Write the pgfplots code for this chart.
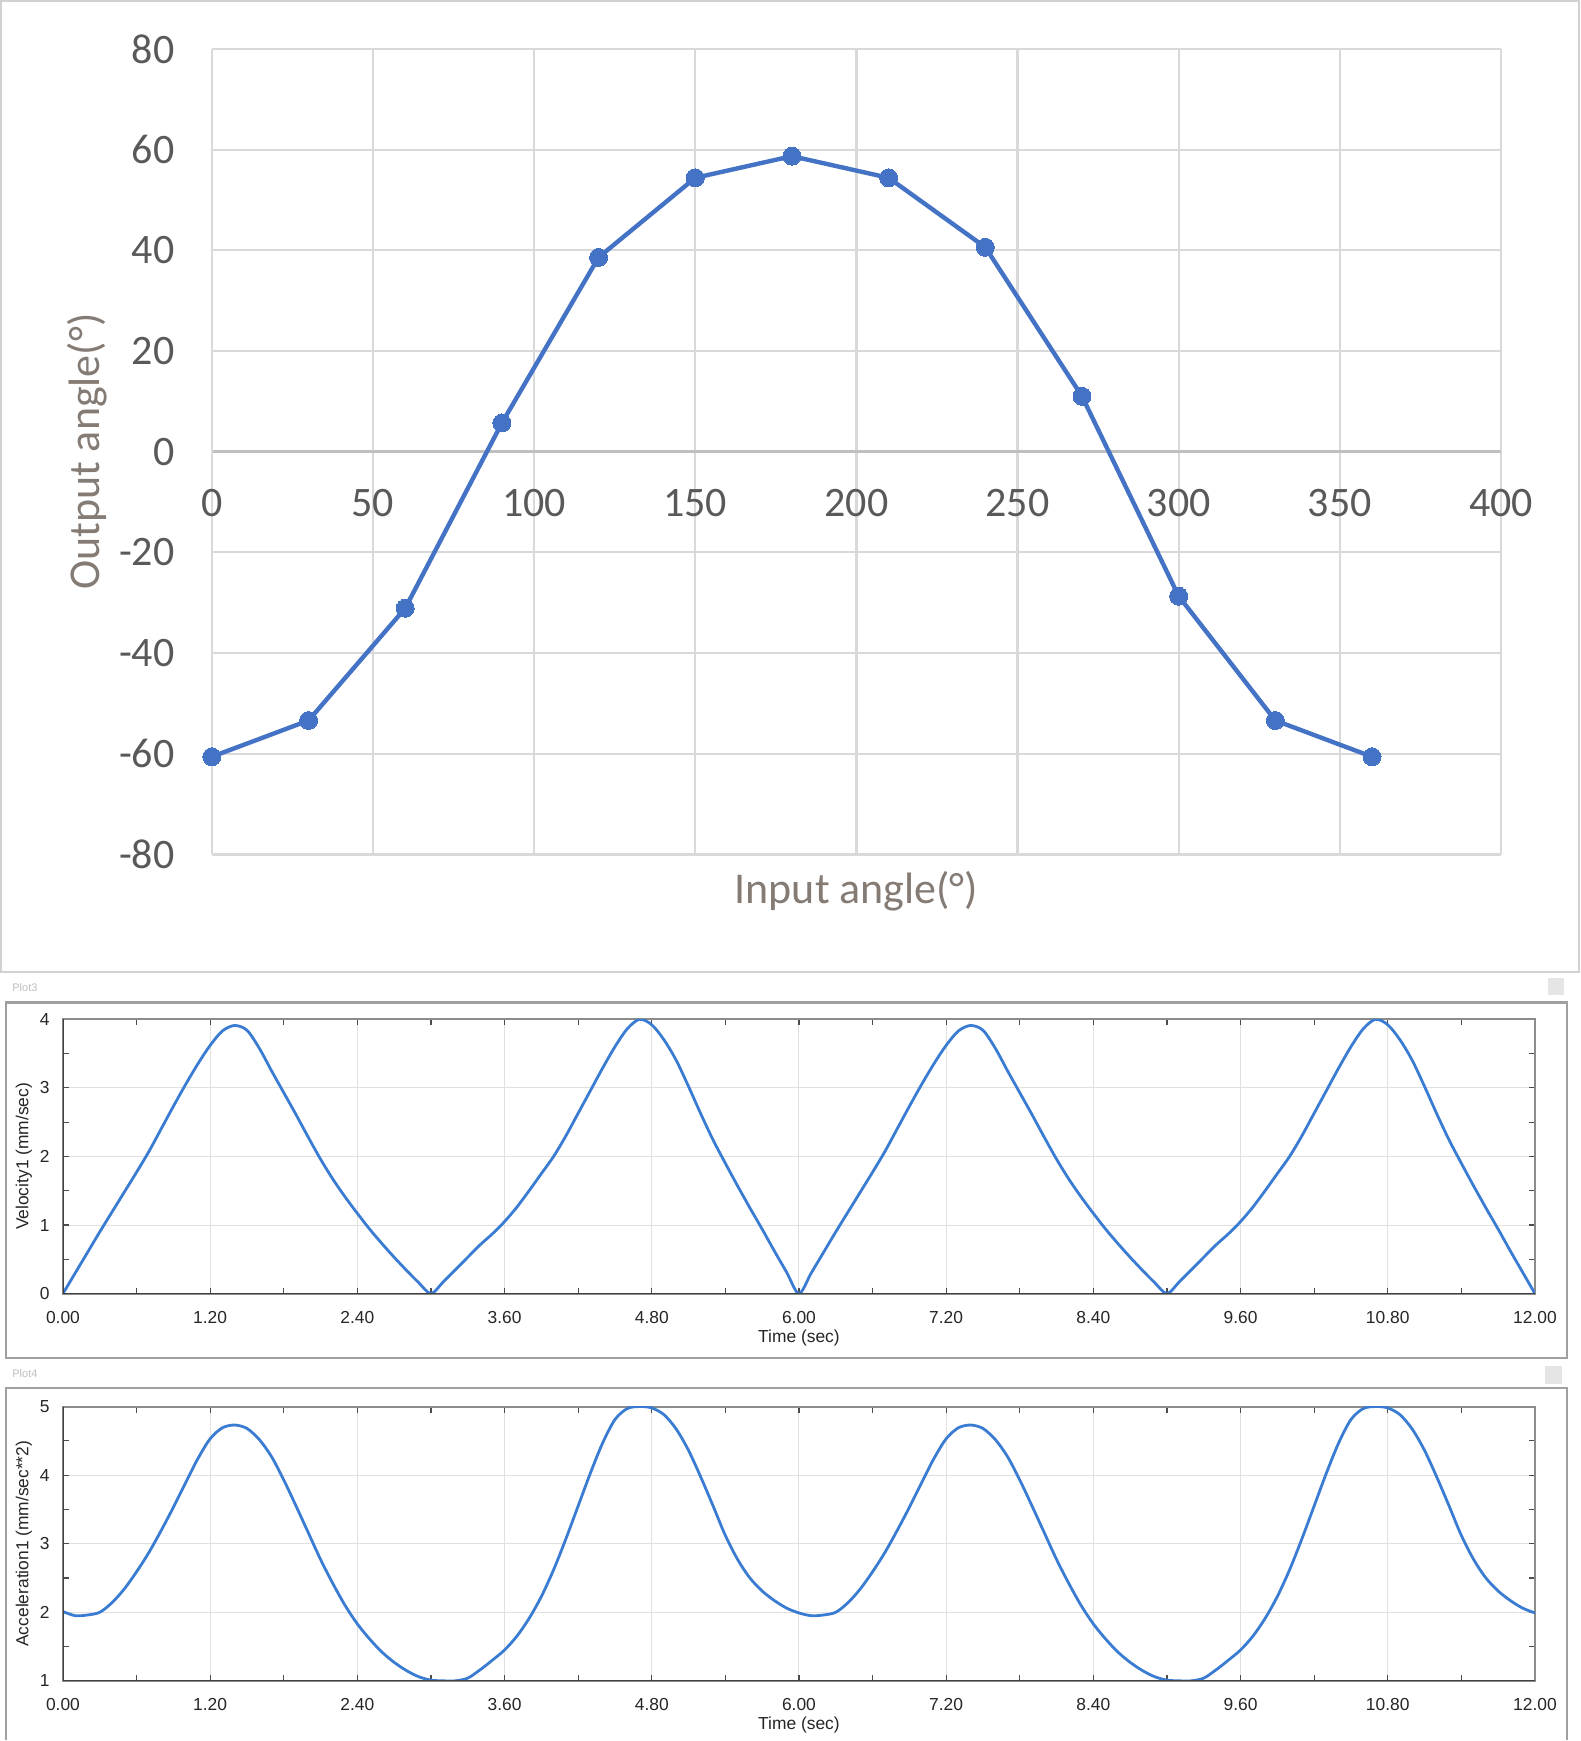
\documentclass[border=0pt]{standalone}
\usepackage{fontspec}
\setmainfont{Liberation Sans}
\newfontfamily\calibri{Carlito}
\usepackage{pgfplots}
\pgfplotsset{compat=1.18}

\definecolor{xlblue}{HTML}{4472C4}
\definecolor{tickgray}{HTML}{595959}
\definecolor{titlegray}{HTML}{857B75}
\definecolor{gridgray}{HTML}{D9D9D9}
\definecolor{zerogray}{HTML}{BFBFBF}
\definecolor{curveblue}{HTML}{3A7CD2}
\definecolor{framegray}{HTML}{A0A0A0}

\pgfplotsset{
  simplot/.style={
    width=736.5pt, height=137.25pt, scale only axis,
    xmin=0, xmax=12,
    xtick={0,1.2,2.4,3.6,4.8,6,7.2,8.4,9.6,10.8,12},
    minor x tick num=1, minor y tick num=1,
    grid=major, grid style={draw=black!12, line width=0.5pt},
    axis line style={draw=black!45, line width=1pt},
    tick style={draw=black!70, line width=0.6pt},
    major tick length=3pt, minor tick length=3pt, tick align=inside,
    /pgf/number format/assume math mode=true,
    tick label style={font=\fontsize{8.7}{9}\selectfont, text=black!85},
    xticklabel style={/pgf/number format/.cd, fixed, fixed zerofill, precision=2,
      /tikz/.cd, anchor=center, yshift=-11.75pt},
    yticklabel style={anchor=east, inner sep=0pt, xshift=-6.5pt},
    xlabel={Time (sec)},
    every axis x label/.style={at={(rel axis cs:0.5,0)}, anchor=center, yshift=-22.25pt,
      font=\fontsize{8.7}{9}\selectfont, text=black!85},
    every axis y label/.style={at={(rel axis cs:-0.0265,0.5)}, rotate=90, anchor=center,
      font=\fontsize{8.7}{9}\selectfont, text=black!85},
  }
}

% velocity, one 6 s period, written out twice
\pgfplotstableread{
t v
0.0 0.00
0.1 0.30
0.2 0.60
0.3 0.90
0.4 1.19
0.5 1.48
0.6 1.77
0.7 2.07
0.8 2.40
0.9 2.73
1.0 3.05
1.1 3.35
1.2 3.62
1.3 3.83
1.4 3.91
1.5 3.84
1.6 3.58
1.7 3.25
1.8 2.93
1.9 2.61
2.0 2.28
2.1 1.96
2.2 1.67
2.3 1.41
2.4 1.17
2.5 0.94
2.6 0.73
2.7 0.53
2.8 0.34
2.9 0.16
3.0 0.00
3.1 0.17
3.2 0.35
3.3 0.53
3.4 0.71
3.5 0.87
3.6 1.05
3.7 1.26
3.8 1.50
3.9 1.75
4.0 2.00
4.1 2.30
4.2 2.63
4.3 2.96
4.4 3.29
4.5 3.60
4.6 3.86
4.7 4.00
4.8 3.92
4.9 3.70
5.0 3.40
5.1 3.02
5.2 2.62
5.3 2.24
5.4 1.90
5.5 1.57
5.6 1.25
5.7 0.94
5.8 0.62
5.9 0.31
6.0 0.00
6.1 0.30
6.2 0.60
6.3 0.90
6.4 1.19
6.5 1.48
6.6 1.77
6.7 2.07
6.8 2.40
6.9 2.73
7.0 3.05
7.1 3.35
7.2 3.62
7.3 3.83
7.4 3.91
7.5 3.84
7.6 3.58
7.7 3.25
7.8 2.93
7.9 2.61
8.0 2.28
8.1 1.96
8.2 1.67
8.3 1.41
8.4 1.17
8.5 0.94
8.6 0.73
8.7 0.53
8.8 0.34
8.9 0.16
9.0 0.00
9.1 0.17
9.2 0.35
9.3 0.53
9.4 0.71
9.5 0.87
9.6 1.05
9.7 1.26
9.8 1.50
9.9 1.75
10.0 2.00
10.1 2.30
10.2 2.63
10.3 2.96
10.4 3.29
10.5 3.60
10.6 3.86
10.7 4.00
10.8 3.92
10.9 3.70
11.0 3.40
11.1 3.02
11.2 2.62
11.3 2.24
11.4 1.90
11.5 1.57
11.6 1.25
11.7 0.94
11.8 0.62
11.9 0.31
12.0 0.00
}\veltable

\pgfplotstableread{
t a
0.0 2.01
0.1 1.95
0.2 1.96
0.3 2.00
0.4 2.14
0.5 2.34
0.6 2.59
0.7 2.87
0.8 3.19
0.9 3.53
1.0 3.89
1.1 4.24
1.2 4.53
1.3 4.69
1.4 4.73
1.5 4.68
1.6 4.52
1.7 4.27
1.8 3.93
1.9 3.55
2.0 3.16
2.1 2.77
2.2 2.42
2.3 2.10
2.4 1.83
2.5 1.61
2.6 1.42
2.7 1.27
2.8 1.15
2.9 1.06
3.0 1.01
3.1 1.00
3.2 1.00
3.3 1.04
3.4 1.16
3.5 1.30
3.6 1.45
3.7 1.65
3.8 1.91
3.9 2.23
4.0 2.62
4.1 3.07
4.2 3.55
4.3 4.03
4.4 4.47
4.5 4.81
4.6 4.97
4.7 5.00
4.8 4.98
4.9 4.88
5.0 4.67
5.1 4.36
5.2 3.97
5.3 3.55
5.4 3.12
5.5 2.77
5.6 2.50
5.7 2.31
5.8 2.17
5.9 2.06
6.0 1.99
6.1 1.95
6.2 1.96
6.3 2.00
6.4 2.14
6.5 2.34
6.6 2.59
6.7 2.87
6.8 3.19
6.9 3.53
7.0 3.89
7.1 4.24
7.2 4.53
7.3 4.69
7.4 4.73
7.5 4.68
7.6 4.52
7.7 4.27
7.8 3.93
7.9 3.55
8.0 3.16
8.1 2.77
8.2 2.42
8.3 2.10
8.4 1.83
8.5 1.61
8.6 1.42
8.7 1.27
8.8 1.15
8.9 1.06
9.0 1.01
9.1 1.00
9.2 1.00
9.3 1.04
9.4 1.16
9.5 1.30
9.6 1.45
9.7 1.65
9.8 1.91
9.9 2.23
10.0 2.62
10.1 3.07
10.2 3.55
10.3 4.03
10.4 4.47
10.5 4.81
10.6 4.97
10.7 5.00
10.8 4.98
10.9 4.88
11.0 4.67
11.1 4.36
11.2 3.97
11.3 3.55
11.4 3.12
11.5 2.77
11.6 2.50
11.7 2.31
11.8 2.17
11.9 2.06
12.0 1.99
}\acctable

\begin{document}
\begin{tikzpicture}

% panel frames (pixel coordinates of the screenshot, y downwards)
\begin{scope}[x=0.5pt, y=-0.5pt, yshift=870.5pt]
  \fill[white] (0,0) rectangle (1582,1741);
  \draw[black!18, line width=1pt] (1,1) rectangle (1580,973);
  \node[anchor=west, inner sep=0pt, font=\fontsize{5.5}{6}\selectfont, text=black!25] at (12,988) {Plot3};
  \fill[black!10] (1549,979) rectangle (1565,996);
  \draw[framegray, line width=1.2pt] (6,1003) rectangle (1568,1359);
  \node[anchor=west, inner sep=0pt, font=\fontsize{5.5}{6}\selectfont, text=black!25] at (12,1375) {Plot4};
  \fill[black!10] (1546,1367) rectangle (1563,1385);
  \draw[framegray, line width=1.2pt] (6,1741) -- (6,1389) -- (1568,1389) -- (1568,1741);
\end{scope}

% output angle vs input angle
\begin{axis}[
  at={(106pt,443pt)}, anchor=south west,
  width=645pt, height=403pt, scale only axis,
  xmin=0, xmax=400, ymin=-80, ymax=80,
  xtick={0,50,...,400}, ytick={-80,-60,...,80},
  axis x line*=middle, axis y line*=left,
  x axis line style={-, draw=zerogray, line width=1.2pt},
  y axis line style={-, draw=gridgray, line width=1.1pt},
  major tick length=0pt,
  grid=major, grid style={draw=gridgray, line width=1.1pt},
  hide obscured x ticks=false, hide obscured y ticks=false,
  clip=false,
  /pgf/number format/assume math mode=true,
  tick label style={font=\calibri\fontsize{21}{21}\selectfont, text=tickgray},
  xticklabel style={anchor=center, yshift=-25.5pt},
  yticklabel style={anchor=east, inner sep=0pt, xshift=-18.5pt},
  xlabel={Input angle(°)}, ylabel={Output angle(°)},
  every axis x label/.style={at={(rel axis cs:0.5,-0.0453)}, anchor=center,
    font=\calibri\fontsize{22}{22}\selectfont, text=titlegray},
  every axis y label/.style={at={(rel axis cs:-0.097,0.5)}, rotate=90, anchor=center,
    font=\calibri\fontsize{22}{22}\selectfont, text=titlegray},
]
\addplot[xlblue, line width=2.2pt, mark=*, mark size=4.5pt,
  mark options={fill=xlblue, draw=xlblue, line width=0pt}]
coordinates{(0,-60.6) (30,-53.4) (60,-31.1) (90,5.7) (120,38.6) (150,54.4) (180,58.7)
  (210,54.4) (240,40.6) (270,11.0) (300,-28.7) (330,-53.4) (360,-60.6)};
\end{axis}

% velocity
\begin{axis}[simplot,
  at={(31.5pt,223.25pt)}, anchor=south west,
  ymin=0, ymax=4, ytick={0,1,2,3,4},
  ylabel={Velocity1 (mm/sec)},
]
\addplot[curveblue, line width=1.4pt, smooth] table[x=t, y=v] {\veltable};
\draw[black!75, line width=1pt] (rel axis cs:0,1) -- (rel axis cs:0,0) -- (rel axis cs:1,0);
\end{axis}

% acceleration
\begin{axis}[simplot,
  at={(31.5pt,29.5pt)}, anchor=south west,
  ymin=1, ymax=5, ytick={1,2,3,4,5},
  ylabel={Acceleration1 (mm/sec**2)},
]
\addplot[curveblue, line width=1.4pt, smooth] table[x=t, y=a] {\acctable};
\draw[black!75, line width=1pt] (rel axis cs:0,1) -- (rel axis cs:0,0) -- (rel axis cs:1,0);
\end{axis}

\end{tikzpicture}
\end{document}
